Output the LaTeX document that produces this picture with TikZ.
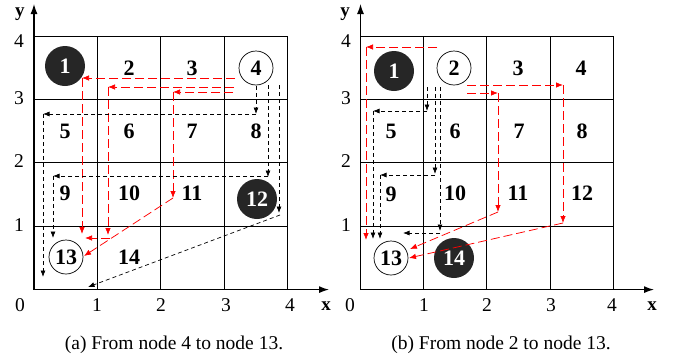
\documentclass[tikz,border=0pt]{standalone}
\usepackage{fontspec}
\setmainfont{Liberation Serif}
\usetikzlibrary{arrows.meta}
\tikzset{
 gridline/.style={line width=0.9pt},
 axisline/.style={line width=1.3pt, -{Latex[length=10pt,width=7pt]}},
 redarr/.style={red, line width=0.75pt, dash pattern=on 9pt off 4pt, -{Latex[length=7pt,width=5.5pt]}},
 blkarr/.style={black, line width=0.7pt, dash pattern=on 4pt off 3pt, -{Latex[length=6.5pt,width=5pt]}},
 num/.style={font=\fontsize{22}{22}\selectfont\bfseries, inner sep=0pt},
 blacknode/.style={num, circle, fill=black!85, text=white, minimum size=40pt},
 opennode/.style={num, circle, draw, line width=0.7pt, minimum size=34pt},
 ticklab/.style={font=\fontsize{19.5}{19.5}\selectfont, inner sep=0pt},
 axlab/.style={font=\fontsize{19}{19}\selectfont\bfseries, inner sep=0pt},
 capt/.style={font=\fontsize{19.5}{19.5}\selectfont, inner sep=0pt}
}
\begin{document}
\begin{tikzpicture}[x=1pt,y=-1pt]
\useasboundingbox (0,0) rectangle (678,362);
% ---------- panel (a) ----------
\foreach \i in {0,...,4} {
  \draw[gridline] ({34+63.4*\i},36) -- ({34+63.4*\i},289.6);
  \draw[gridline] (34,{36+63.4*\i}) -- (287.6,{36+63.4*\i});
}
\coordinate (aO) at (34,289.6);
\coordinate (aY) at (34,4);
\coordinate (aX) at (329,289.6);
\draw[axisline] (aO) -- (aY);
\draw[axisline] (aO) -- (aX);
\node[axlab] (ay) at (20,14) {y};
\node[axlab] (ax) at (326,306) {x};
\node[ticklab] (ax0) at (20,305) {0};
\node[ticklab] (ax1) at (97,305) {1};
\node[ticklab] (ax2) at (161,305) {2};
\node[ticklab] (ax3) at (226,305) {3};
\node[ticklab] (ax4) at (290,305) {4};
\node[ticklab] (ay4) at (19,41) {4};
\node[ticklab] (ay3) at (19,98) {3};
\node[ticklab] (ay2) at (19,161) {2};
\node[ticklab] (ay1) at (19,225) {1};

\node[blacknode] (a1) at (65,66) {1};
\node[num] (a2) at (129,68) {2};
\node[num] (a3) at (192,68) {3};
\node[opennode] (a4) at (256,68) {4};
\node[num] (a5) at (65,131) {5};
\node[num] (a6) at (129,131) {6};
\node[num] (a7) at (192,131) {7};
\node[num] (a8) at (256,131) {8};
\node[num] (a9) at (65,193) {9};
\node[num] (a10) at (129,193) {10};
\node[num] (a11) at (192,193) {11};
\node[blacknode] (a12) at (257,199) {12};
\node[opennode] (a13) at (66,257) {13};
\node[num] (a14) at (129,257) {14};

% red paths (a)
\coordinate (ar1a) at (235,78); \coordinate (ar1b) at (82,78); \coordinate (ar1c) at (82,234);
\draw[redarr] (ar1a) -- (ar1b);
\draw[redarr] (ar1b) -- (ar1c);
\coordinate (ar2a) at (234,87); \coordinate (ar2b) at (108,87); \coordinate (ar2c) at (108,235);
\coordinate (ar2d) at (110,238); \coordinate (ar2e) at (85,238);
\draw[redarr] (ar2a) -- (ar2b);
\draw[redarr] (ar2b) -- (ar2c);
\draw[redarr] (ar2d) -- (ar2e);
\coordinate (ar3a) at (233,92); \coordinate (ar3b) at (173,92); \coordinate (ar3c) at (173,198);
\coordinate (ar3d) at (84,256);
\draw[redarr] (ar3a) -- (ar3b);
\draw[redarr] (ar3b) -- (ar3c);
\draw[redarr] (ar3c) -- (ar3d);
% black paths (a)
\coordinate (ab1a) at (256,86); \coordinate (ab1b) at (256,114); \coordinate (ab1c) at (43,114); \coordinate (ab1d) at (43,277);
\draw[blkarr] (ab1a) -- (ab1b);
\draw[blkarr] (ab1b) -- (ab1c);
\draw[blkarr] (ab1c) -- (ab1d);
\coordinate (ab2a) at (268,85); \coordinate (ab2b) at (268,177); \coordinate (ab2e) at (268,176); \coordinate (ab2c) at (53,176); \coordinate (ab2d) at (53,238);
\draw[blkarr] (ab2a) -- (ab2b);
\draw[blkarr] (ab2e) -- (ab2c);
\draw[blkarr] (ab2c) -- (ab2d);
\coordinate (ab3a) at (279,85); \coordinate (ab3b) at (279,213); \coordinate (ab3c) at (280,215); \coordinate (ab3d) at (88,287);
\draw[blkarr] (ab3a) -- (ab3b);
\draw[blkarr] (ab3c) -- (ab3d);

\node[capt] (capa) at (174,345) {(a) From node 4 to node 13.};

% ---------- panel (b) ----------
\foreach \i in {0,...,4} {
  \draw[gridline] ({360.5+63.2*\i},36) -- ({360.5+63.2*\i},289.6);
  \draw[gridline] (360.5,{36+63.4*\i}) -- (613.3,{36+63.4*\i});
}
\coordinate (bO) at (360.5,289.6);
\coordinate (bY) at (360.5,4);
\coordinate (bX) at (654,289.6);
\draw[axisline] (bO) -- (bY);
\draw[axisline] (bO) -- (bX);
\node[axlab] (by) at (345,14) {y};
\node[axlab] (bx) at (652,306) {x};
\node[ticklab] (bx0) at (350,305) {0};
\node[ticklab] (bx1) at (424,305) {1};
\node[ticklab] (bx2) at (487,305) {2};
\node[ticklab] (bx3) at (551,305) {3};
\node[ticklab] (bx4) at (612,305) {4};
\node[ticklab] (by4) at (346,41) {4};
\node[ticklab] (by3) at (346,98) {3};
\node[ticklab] (by2) at (346,161) {2};
\node[ticklab] (by1) at (346,225) {1};

\node[blacknode] (b1) at (394,71) {1};
\node[opennode] (b2) at (454,68) {2};
\node[num] (b3) at (518,68) {3};
\node[num] (b4) at (581,68) {4};
\node[num] (b5) at (391,131) {5};
\node[num] (b6) at (455,131) {6};
\node[num] (b7) at (519,131) {7};
\node[num] (b8) at (582,131) {8};
\node[num] (b9) at (391,194) {9};
\node[num] (b10) at (455,193) {10};
\node[num] (b11) at (518,193) {11};
\node[num] (b12) at (582,193) {12};
\node[opennode] (b13) at (391,258) {13};
\node[blacknode] (b14) at (454,258) {14};

% red paths (b)
\coordinate (br1a) at (437,47); \coordinate (br1b) at (366,47); \coordinate (br1c) at (366,240);
\draw[redarr] (br1a) -- (br1b);
\draw[redarr] (br1b) -- (br1c);
\coordinate (br2a) at (467,93); \coordinate (br2b) at (498,93); \coordinate (br2c) at (498,212); \coordinate (br2d) at (410,249);
\draw[redarr] (br2a) -- (br2b);
\draw[redarr] (br2b) -- (br2c);
\draw[redarr] (br2c) -- (br2d);
\coordinate (br3a) at (467,85); \coordinate (br3b) at (563,85); \coordinate (br3c) at (563,223); \coordinate (br3d) at (409,258);
\draw[redarr] (br3a) -- (br3b);
\draw[redarr] (br3b) -- (br3c);
\draw[redarr] (br3c) -- (br3d);
% black paths (b)
\coordinate (bb1a) at (427,87); \coordinate (bb1b) at (427,111); \coordinate (bb1c) at (373,111); \coordinate (bb1d) at (373,239);
\draw[blkarr] (bb1a) -- (bb1b);
\draw[blkarr] (bb1b) -- (bb1c);
\draw[blkarr] (bb1c) -- (bb1d);
\coordinate (bb2a) at (435,87); \coordinate (bb2b) at (435,174); \coordinate (bb2e) at (435,175); \coordinate (bb2c) at (380,175); \coordinate (bb2d) at (380,239);
\draw[blkarr] (bb2a) -- (bb2b);
\draw[blkarr] (bb2e) -- (bb2c);
\draw[blkarr] (bb2c) -- (bb2d);
\coordinate (bb3a) at (440,87); \coordinate (bb3b) at (440,231); \coordinate (bb3c) at (440,233); \coordinate (bb3d) at (403,233);
\draw[blkarr] (bb3a) -- (bb3b);
\draw[blkarr] (bb3c) -- (bb3d);

\node[capt] (capb) at (501,345) {(b) From node 2 to node 13.};
\end{tikzpicture}
\end{document}
